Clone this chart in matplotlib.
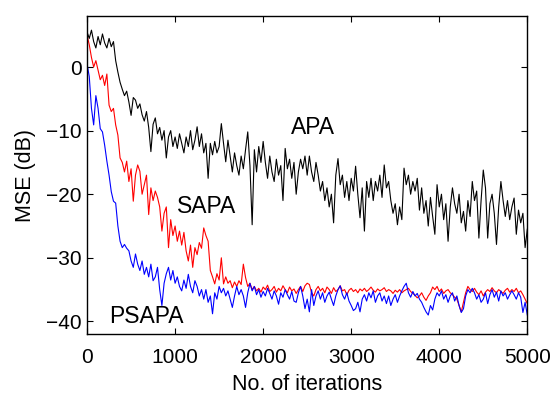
import numpy as np
import matplotlib
matplotlib.use("Agg")
import matplotlib.pyplot as plt

iterations = np.arange(0, 5001, 25)

apa = [5.5, 4.5, 5.8, 4.0, 3.0, 4.8, 3.5, 5.2, 3.8, 3.0, 4.5, 3.2, 4.0,
       1.0, -0.8, -2.4, -3.5, -4.5, -3.8, -5.5, -7.6, -4.8, -5.2, -6.5, -5.8,
       -7.5, -8.5, -7.0, -9.5, -13.3, -9.0, -8.0, -10.5, -9.5, -11.5, -10.0, -14.3,
       -11.0, -10.0, -12.5, -11.0, -12.8, -10.5, -12.0, -13.5, -11.0, -12.5, -10.0, -13.0, -11.5, -9.4,
       -12.5, -10.5, -13.5, -12.0, -17.5, -12.0, -13.8, -11.7, -13.5, -12.5,
       -8.9, -12.0, -14.9, -11.5, -14.0, -16.5, -13.5, -15.5, -17.0, -14.0, -16.0, -13.0,
       -10.2, -15.5, -24.8, -13.0, -16.5, -12.5, -15.0, -11.7,
       -15.0, -17.5, -14.0, -16.5, -18.0, -14.5, -17.0, -15.5, -21.0, -12.8,
       -16.0, -14.5, -17.5, -15.0, -20.0, -16.5, -14.5, -16.0, -14.0, -17.0,
       -14.0, -16.5, -18.0, -15.0, -17.0, -19.5, -18.0, -21.0, -19.0, -22.0, -20.0, -24.5,
       -17.0, -14.4, -18.5, -17.0, -20.5, -18.0, -21.0, -17.5, -19.5, -15.6, -20.0, -23.7,
       -19.0, -25.8, -18.0, -20.5, -17.5, -21.0, -18.0, -19.5, -17.0, -20.5, -15.4, -19.0,
       -18.0, -21.0, -23.0, -21.5, -24.8, -22.0, -24.0, -15.9, -18.5, -17.0, -20.0, -18.0, -19.5, -17.5,
       -22.5, -19.0, -23.0, -21.0, -25.0, -20.5, -23.5, -26.3, -18.5, -22.0,
       -20.0, -24.0, -21.5, -27.4, -22.0, -19.0, -21.5, -23.0, -20.0, -24.5,
       -22.7, -25.8, -21.0, -23.5, -18.0, -21.0, -19.5, -26.9, -21.0, -16.2,
       -19.0, -26.9, -21.5, -20.0, -23.0, -27.9, -22.0, -18.0, -21.0, -23.5,
       -21.0, -24.0, -22.0, -20.6, -26.3, -22.5, -24.5, -23.0, -28.4, -25.5]

sapa = [5.0, 3.5, 1.5, 0.0, 1.0, -0.5, -2.0, -1.3, -2.9, -1.1, -6.0, -7.0, -6.5,
        -9.1, -10.7, -14.3, -15.0, -16.5, -14.8, -18.0, -16.0, -21.1, -17.0, -15.4, -16.4,
        -20.0, -18.5, -17.0, -23.2, -19.0, -21.0, -19.5, -20.5, -22.0, -25.8, -23.0, -22.0,
        -28.4, -24.0, -26.5, -25.0, -27.4, -25.8, -28.0, -26.0, -28.9, -30.5, -28.0, -31.5, -28.4, -29.5,
        -27.6, -28.5, -25.3, -26.5, -27.4, -32.0, -33.0, -34.1, -32.5, -33.5,
        -30.0, -34.1, -33.0, -34.0, -33.6, -34.7, -33.8, -34.5, -33.6, -34.2, -31.0, -33.1,
        -34.5, -34.0, -35.0, -34.5, -35.2, -34.8, -35.4, -34.6,
        -35.0, -34.3, -35.3, -35.0, -34.5, -35.4, -34.8, -35.2, -34.4, -35.0,
        -35.5, -34.6, -35.2, -34.9, -35.6, -35.0, -34.5, -35.3, -34.4, -34.0,
        -34.2, -35.5, -36.0, -35.0, -34.5, -35.2, -34.8, -35.5, -34.6, -35.0, -35.6, -34.7,
        -35.3, -35.0, -34.4, -35.2, -35.0, -35.8, -35.1, -34.8, -35.3, -35.0, -35.5, -34.9,
        -35.2, -34.8, -35.3, -35.0, -34.6, -35.1, -35.4, -34.9, -35.2, -35.0, -34.7, -35.3,
        -35.0, -35.2, -35.6, -35.1, -35.4, -35.0, -35.5, -35.2, -35.0, -34.8, -35.3, -35.6, -35.9, -36.3,
        -36.0, -35.5, -36.2, -36.7, -36.0, -35.5, -34.6, -35.0, -34.5, -35.3,
        -34.9, -35.6, -35.2, -35.0, -35.5, -35.8, -36.2, -36.5, -37.5, -38.5,
        -37.0, -35.5, -34.5, -35.0, -35.3, -34.8, -35.4, -35.8, -35.2, -36.0,
        -35.4, -35.0, -35.3, -34.7, -35.2, -35.5, -35.0, -35.3, -35.6, -35.1,
        -34.8, -35.4, -35.0, -35.3, -34.8, -35.5, -35.2, -35.8, -36.5, -37.2]

psapa = [0.5, -1.5, -6.5, -9.1, -4.5, -6.5, -9.7, -10.2, -12.3, -14.8, -17.0, -19.6, -21.1,
         -21.4, -25.0, -27.4, -28.4, -27.9, -28.5, -28.9, -30.5, -31.5, -29.4, -31.0, -32.0,
         -30.5, -32.6, -31.5, -33.0, -31.0, -33.6, -33.0, -31.5, -35.0, -37.5, -34.0, -32.5,
         -31.5, -33.5, -32.0, -34.0, -33.0, -34.5, -35.2, -33.5, -34.8, -32.6, -34.5, -35.5, -33.6, -34.5,
         -36.0, -35.0, -36.5, -35.0, -37.0, -36.0, -38.8, -35.5, -36.5, -34.5,
         -35.5, -34.8, -36.0, -35.2, -36.5, -37.8, -36.0, -34.5, -35.8, -35.0, -36.0, -37.8,
         -35.5, -34.0, -35.2, -34.5, -35.8, -35.0, -36.2, -35.3,
         -36.0, -34.8, -35.6, -36.5, -35.2, -36.0, -37.3, -35.5, -36.2, -35.0,
         -35.8, -36.5, -35.3, -36.8, -37.0, -35.5, -34.5, -36.0, -38.0, -36.5,
         -38.5, -35.0, -37.5, -36.0, -35.2, -36.5, -35.5, -37.0, -36.0, -35.4, -36.5, -37.5,
         -36.0, -35.0, -34.4, -35.8, -36.5, -35.5, -36.8, -37.5, -38.3, -38.0, -37.0, -38.5,
         -36.5, -35.8, -36.8, -35.5, -36.3, -35.2, -37.0, -36.0, -35.5, -36.8, -36.0, -37.2,
         -36.0, -37.5, -36.5, -35.8, -37.0, -36.0, -35.2, -34.5, -34.0, -35.5, -36.2, -35.3, -36.0, -35.6,
         -36.5, -37.0, -37.8, -38.5, -39.0, -37.5, -38.2, -36.5, -35.5, -36.0,
         -35.2, -36.5, -35.8, -37.0, -36.0, -35.5, -36.8, -36.0, -37.5, -38.6,
         -38.0, -36.0, -35.0, -35.5, -34.8, -35.5, -36.5, -35.8, -37.0, -36.5,
         -35.5, -37.2, -35.8, -35.0, -36.2, -35.4, -36.8, -35.2, -36.0, -35.5,
         -36.5, -35.8, -35.2, -35.8, -36.5, -35.5, -36.2, -38.6, -37.0, -39.0]

xticks = [0, 1000, 2000, 3000, 4000, 5000]
yticks = [-40, -30, -20, -10, 0]

plt.rcParams['font.family'] = ['Liberation Sans', 'DejaVu Sans']

fig = plt.figure(figsize=(5.51, 3.94), dpi=100)
ax = fig.add_axes([0.158, 0.152, 0.799, 0.807])

ax.plot(iterations[:len(apa)], apa, color='black', lw=0.8)
ax.plot(iterations[:len(sapa)], sapa, color='red', lw=0.8)
ax.plot(iterations[:len(psapa)], psapa, color='blue', lw=0.8)

ax.set_xlim(0, 5000)
ax.set_ylim(-42, 8)
ax.set_xticks(xticks)
ax.set_yticks(yticks)
ax.tick_params(direction='in', top=True, right=True, length=4, width=0.8, labelsize=15)
ax.tick_params(axis='x', pad=10)
ax.tick_params(axis='y', pad=4)
for s in ax.spines.values():
    s.set_linewidth(1.0)

ax.set_xlabel('No. of iterations', fontsize=15.5, labelpad=5)
ax.set_ylabel('MSE (dB)', fontsize=15.5, labelpad=7)

ax.text(2570, -9.5, 'APA', fontsize=16.5, ha='center', va='center')
ax.text(1360, -22, 'SAPA', fontsize=16.5, ha='center', va='center')
ax.text(670, -39.3, 'PSAPA', fontsize=16.5, ha='center', va='center')

fig.savefig('out.png', dpi=100)
